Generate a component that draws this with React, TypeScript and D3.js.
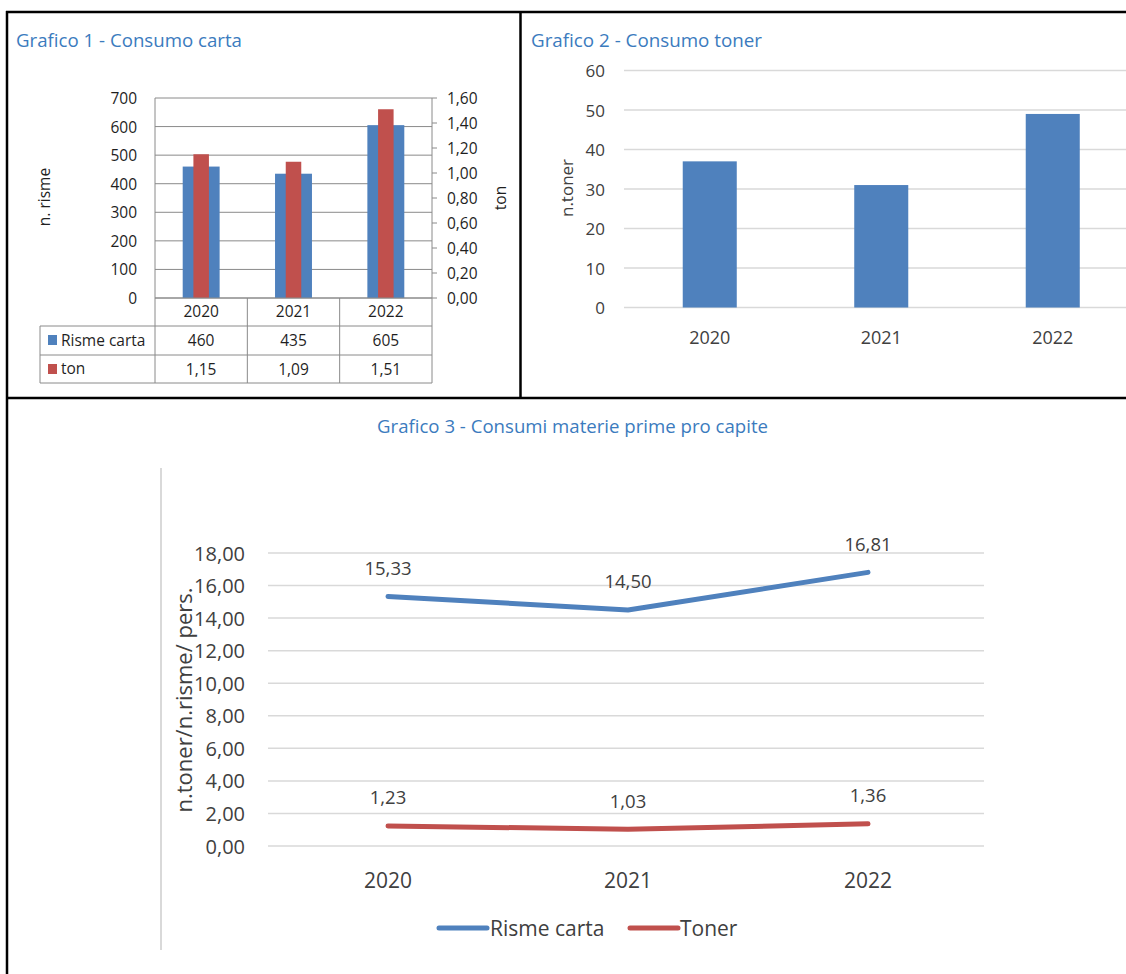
import React from "react";
import * as d3 from "d3";

const years = ["2020", "2021", "2022"];
const rismeCarta = [460, 435, 605];
const tonCarta = [1.15, 1.09, 1.51];
const tonerCount = [37, 31, 49];
const rismePerCapite = [15.33, 14.5, 16.81];
const tonerPerCapite = [1.23, 1.03, 1.36];
const leftTicks1 = [0, 100, 200, 300, 400, 500, 600, 700];
const rightTicks1 = [0, 0.2, 0.4, 0.6, 0.8, 1.0, 1.2, 1.4, 1.6];
const ticks2 = [0, 10, 20, 30, 40, 50, 60];
const ticks3 = [0, 2, 4, 6, 8, 10, 12, 14, 16, 18];
const titles = [
  "Grafico 1 - Consumo carta",
  "Grafico 2 - Consumo toner",
  "Grafico 3 - Consumi materie prime pro capite",
];
const seriesNames3 = ["Risme carta", "Toner"];

const it = d3.formatLocale({ decimal: ",", thousands: ".", grouping: [3], currency: ["", "€"] });
const f2 = it.format(".2f");

const BLUE = "#4F81BD";
const RED = "#C0504D";
const TITLE = "#3B7BBE";
const FONT = "'Open Sans', sans-serif";

function Chart1() {
  const x = d3.scaleBand<string>().domain(years).range([155, 432]);
  const yL = d3.scaleLinear().domain([0, 700]).range([298, 98]);
  const yR = d3.scaleLinear().domain([0, 1.6]).range([298, 98]);
  const bw = x.bandwidth();
  const blueW = bw * 0.4;
  const redW = bw * 0.168;
  const tc = "#1f1f1f";
  const grid = "#8a8a8a";
  return (
    <g fontFamily={FONT} fill={tc}>
      <text x={16} y={47} fontSize={18.5} fill={TITLE} textLength={226} lengthAdjust="spacingAndGlyphs">
        {titles[0]}
      </text>
      {leftTicks1.map((t) => (
        <line key={t} x1={155} x2={432} y1={yL(t)} y2={yL(t)} stroke={grid} strokeWidth={1} />
      ))}
      {years.map((yr, i) => (
        <g key={yr}>
          <rect x={x(yr)! + bw / 2 - blueW / 2} y={yL(rismeCarta[i])} width={blueW} height={298 - yL(rismeCarta[i])} fill={BLUE} />
          <rect x={x(yr)! + bw / 2 - redW / 2} y={yR(tonCarta[i])} width={redW} height={298 - yR(tonCarta[i])} fill={RED} />
        </g>
      ))}
      <line x1={155} x2={155} y1={98} y2={298} stroke={grid} />
      <line x1={432} x2={432} y1={98} y2={298} stroke={grid} />
      {rightTicks1.map((t) => (
        <line key={t} x1={432} x2={437} y1={yR(t)} y2={yR(t)} stroke={grid} />
      ))}
      {leftTicks1.map((t) => (
        <text key={t} x={137} y={yL(t)} fontSize={15.5} textAnchor="end" dominantBaseline="central">
          {t}
        </text>
      ))}
      {rightTicks1.map((t) => (
        <text key={t} x={447} y={yR(t)} fontSize={15.5} dominantBaseline="central">
          {f2(t)}
        </text>
      ))}
      <text transform="translate(44,197) rotate(-90)" fontSize={15.5} textAnchor="middle" dominantBaseline="central">
        n. risme
      </text>
      <text transform="translate(500,198) rotate(-90)" fontSize={15.5} textAnchor="middle" dominantBaseline="central">
        ton
      </text>
      {[298, 326, 355, 383].map((yy, i) => (
        <line key={yy} x1={i === 0 ? 155 : 40} x2={432} y1={yy} y2={yy} stroke={grid} />
      ))}
      <line x1={40} x2={40} y1={326} y2={383} stroke={grid} />
      {[155, ...years.map((yr) => x(yr)! + bw)].map((xx) => (
        <line key={xx} x1={xx} x2={xx} y1={298} y2={383} stroke={grid} />
      ))}
      {years.map((yr, i) => (
        <g key={yr} fontSize={15.5} textAnchor="middle">
          <text x={x(yr)! + bw / 2} y={311} dominantBaseline="central">{yr}</text>
          <text x={x(yr)! + bw / 2} y={340} dominantBaseline="central">{rismeCarta[i]}</text>
          <text x={x(yr)! + bw / 2} y={369} dominantBaseline="central">{f2(tonCarta[i])}</text>
        </g>
      ))}
      <rect x={48} y={335} width={9} height={10} fill={BLUE} />
      <rect x={48} y={364} width={9} height={10} fill={RED} />
      <text x={61} y={340} fontSize={15.5} dominantBaseline="central">Risme carta</text>
      <text x={61} y={368} fontSize={15.5} dominantBaseline="central">ton</text>
    </g>
  );
}

function Chart2() {
  const x = d3.scaleBand<string>().domain(years).range([624, 624 + 3 * 171.5]);
  const y = d3.scaleLinear().domain([0, 60]).range([307.5, 70.5]);
  const bw = x.bandwidth();
  const barW = bw * 0.315;
  const tc = "#404040";
  return (
    <g fontFamily={FONT} fill={tc}>
      <text x={531} y={47} fontSize={18.5} fill={TITLE} textLength={231} lengthAdjust="spacingAndGlyphs">
        {titles[1]}
      </text>
      {ticks2.map((t) => (
        <line key={t} x1={624} x2={1126} y1={y(t)} y2={y(t)} stroke="#d9d9d9" strokeWidth={1.5} />
      ))}
      {years.map((yr, i) => (
        <rect key={yr} x={x(yr)! + bw / 2 - barW / 2} y={y(tonerCount[i])} width={barW} height={y(0) - y(tonerCount[i])} fill={BLUE} />
      ))}
      {ticks2.map((t) => (
        <text key={t} x={605} y={y(t)} fontSize={17} textAnchor="end" dominantBaseline="central">
          {t}
        </text>
      ))}
      {years.map((yr) => (
        <text key={yr} x={x(yr)! + bw / 2} y={337} fontSize={18} textAnchor="middle" dominantBaseline="central">
          {yr}
        </text>
      ))}
      <text transform="translate(566,188) rotate(-90)" fontSize={17} textAnchor="middle" dominantBaseline="central">
        n.toner
      </text>
    </g>
  );
}

function Chart3() {
  const x = d3.scalePoint<string>().domain(years).range([388, 868]);
  const y = d3.scaleLinear().domain([0, 18]).range([846, 553]);
  const line = d3
    .line<number>()
    .x((_, i) => x(years[i])!)
    .y((d) => y(d));
  const tc = "#404040";
  const series = [
    { name: seriesNames3[0], values: rismePerCapite, color: BLUE },
    { name: seriesNames3[1], values: tonerPerCapite, color: RED },
  ];
  return (
    <g fontFamily={FONT} fill={tc}>
      <text x={572.5} y={433} fontSize={18.5} fill={TITLE} textAnchor="middle" textLength={391} lengthAdjust="spacingAndGlyphs">
        {titles[2]}
      </text>
      <line x1={161} x2={161} y1={468} y2={950} stroke="#d9d9d9" strokeWidth={2} />
      {ticks3.map((t) => (
        <line key={t} x1={268} x2={984} y1={y(t)} y2={y(t)} stroke="#d9d9d9" strokeWidth={1.5} />
      ))}
      {ticks3.map((t) => (
        <text key={t} x={245} y={y(t)} fontSize={20} textAnchor="end" dominantBaseline="central">
          {f2(t)}
        </text>
      ))}
      <text transform="translate(183,700) rotate(-90)" fontSize={22} textAnchor="middle" dominantBaseline="central">
        n.toner/n.risme/ pers.
      </text>
      {series.map((s) => (
        <g key={s.name}>
          <path d={line(s.values)!} fill="none" stroke={s.color} strokeWidth={5} strokeLinecap="round" strokeLinejoin="round" />
          {s.values.map((v, i) => (
            <text key={i} x={x(years[i])!} y={y(v) - 29} fontSize={18.5} textAnchor="middle" dominantBaseline="central">
              {f2(v)}
            </text>
          ))}
        </g>
      ))}
      {years.map((yr) => (
        <text key={yr} x={x(yr)!} y={880} fontSize={21} textAnchor="middle" dominantBaseline="central">
          {yr}
        </text>
      ))}
      <line x1={439} x2={487} y1={928} y2={928} stroke={BLUE} strokeWidth={5} strokeLinecap="round" />
      <text x={490} y={928} fontSize={21} dominantBaseline="central">{seriesNames3[0]}</text>
      <line x1={630} x2={678} y1={928} y2={928} stroke={RED} strokeWidth={5} strokeLinecap="round" />
      <text x={680} y={928} fontSize={21} dominantBaseline="central">{seriesNames3[1]}</text>
    </g>
  );
}

export default function App() {
  return (
    <svg
      width={1126}
      height={974}
      viewBox="0 0 1126 974"
      style={{ position: "absolute", left: 0, top: 0, background: "#fff" }}
    >
      <rect x={0} y={0} width={1126} height={974} fill="#fff" />
      <Chart1 />
      <Chart2 />
      <Chart3 />
      <g stroke="#000" strokeWidth={2.5}>
        <line x1={6} x2={1126} y1={12} y2={12} />
        <line x1={7} x2={7} y1={11} y2={974} />
        <line x1={520.5} x2={520.5} y1={12} y2={398} />
        <line x1={7} x2={1126} y1={398} y2={398} />
      </g>
    </svg>
  );
}
